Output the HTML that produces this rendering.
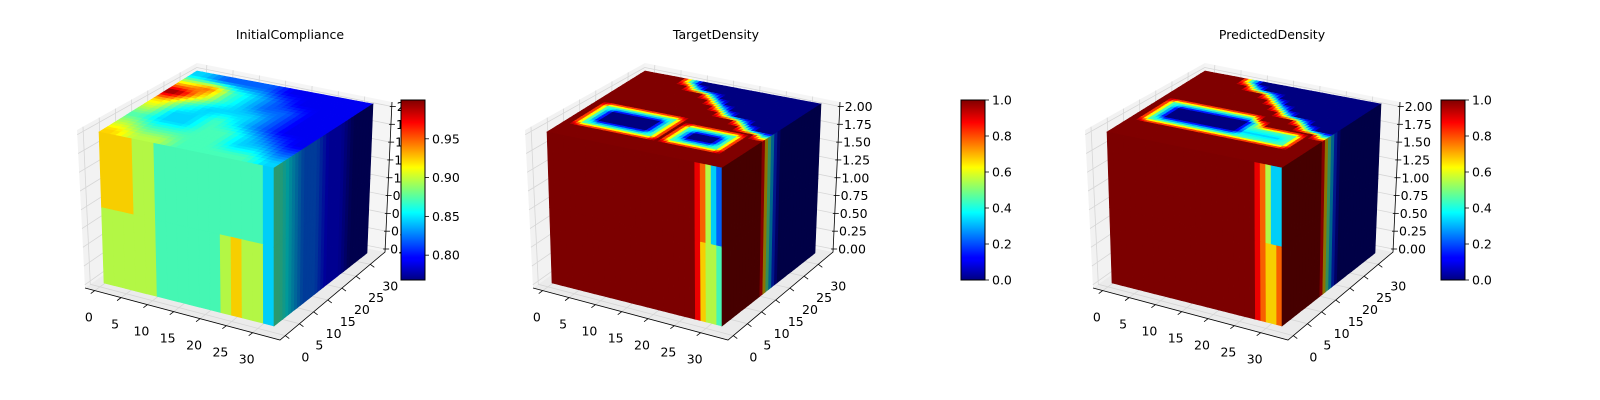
<!DOCTYPE html>
<html><head><meta charset="utf-8">
<style>
html,body{margin:0;padding:0;background:#fff;}
svg{display:block;font-family:"DejaVu Sans","Liberation Sans",sans-serif;}
</style></head>
<body>
<svg id="fig" width="1600" height="400" viewBox="0 0 1600 400" xmlns="http://www.w3.org/2000/svg">
<defs>
<linearGradient id="jetgrad" x1="0" y1="1" x2="0" y2="0">
<stop offset="0" stop-color="#000080"/><stop offset="0.11" stop-color="#0000ff"/>
<stop offset="0.125" stop-color="#0000ff"/><stop offset="0.34" stop-color="#00dbff"/>
<stop offset="0.375" stop-color="#00ffff"/><stop offset="0.5" stop-color="#7dff7a"/>
<stop offset="0.625" stop-color="#ffff00"/><stop offset="0.66" stop-color="#ffdb00"/>
<stop offset="0.875" stop-color="#ff0000"/><stop offset="1" stop-color="#800000"/>
</linearGradient>
</defs>
</svg>
<script>
// ---- data (digits 0-9 => normalized colour value d/9) ----
const panelTitles = ["InitialCompliance", "TargetDensity", "PredictedDensity"];
const xTickLabels = [0, 5, 10, 15, 20, 25, 30];
const yTickLabels = [0, 5, 10, 15, 20, 25, 30];
const zTickLabels = ["0.00","0.25","0.50","0.75","1.00","1.25","1.50","1.75","2.00"];
const cbar1Ticks = [0.80, 0.85, 0.90, 0.95];
const cbar1Range = [0.768, 1.0];
const cbarTicks = [0.0, 0.2, 0.4, 0.6, 0.8, 1.0];

// top faces: rows listed back -> front
const top1 = ["32221111","67432111","96432211","64333211","53343211","43344321","54444332","65544443"];
const top2 = ["9999400000000000","9999940000000000","9999999400000000","9999999940000000",
"9999999994000000","9999999999400000","9999999999994000","9999999999999400",
"9444444499999994","9400000494444499","9400000494000499","9400000494000499",
"9444444494444499","9999999999999999","9999999999999999","9999999999999999"];
const top3 = ["9999400000000000","9999940000000000","9999999400000000","9999999940000000",
"9999999994000000","9999999999400000","9999999999994000","9444444449999400",
"9400000004999994","9400000004444499","9400000003333499","9444444444444499",
"9999999999999999","9999999999999999","9999999999999999","9999999999999999"];
// front faces: [upper half, lower half], columns left -> right
const front1 = ["6665544444444443","5555544444456553"];
const front2 = ["99999999999999999999999999987532","99999999999999999999999999986554"];
const front3 = ["99999999999999999999999999987533","99999999999999999999999999987667"];
// right faces: columns front -> back
const right1 = ["43221100","43221100"];
const right2 = ["9999999520000000","9999999520000000"];
const right3 = ["9999999520000000","9999999520000000"];

const tops = [top1, top2, top3];
const fronts = [front1, front2, front3];
const rights = [right1, right2, right3];
const offsets = [-448, 0, 560];
const titleX = [290, 716, 1272];

// ---- helpers ----
const NS = "http://www.w3.org/2000/svg";
const svg = document.getElementById("fig");
function el(tag, attrs, parent) {
  const e = document.createElementNS(NS, tag);
  for (const k in attrs) e.setAttribute(k, attrs[k]);
  (parent || svg).appendChild(e);
  return e;
}
function clamp(v){return Math.max(0, Math.min(1, v));}
function jet(t, s) {
  s = s === undefined ? 1 : s;
  const r = clamp(1.5 - Math.abs(4*t - 3)), g = clamp(1.5 - Math.abs(4*t - 2)), b = clamp(1.5 - Math.abs(4*t - 1));
  return "rgb(" + Math.round(r*255*s) + "," + Math.round(g*255*s) + "," + Math.round(b*255*s) + ")";
}
function bil(p00, p10, p11, p01, u, v) {
  const x = (1-u)*(1-v)*p00[0] + u*(1-v)*p10[0] + u*v*p11[0] + (1-u)*v*p01[0];
  const y = (1-u)*(1-v)*p00[1] + u*(1-v)*p10[1] + u*v*p11[1] + (1-u)*v*p01[1];
  return [x, y];
}
function P(o, p){return [p[0]+o, p[1]];}
function lerp(a, b, t){return [a[0]+(b[0]-a[0])*t, a[1]+(b[1]-a[1])*t];}
function pts(arr){return arr.map(p => p[0].toFixed(1)+","+p[1].toFixed(1)).join(" ");}
function sampleGrid(rows, u, v) {
  const n = rows.length, m = rows[0].length;
  let fi = v*n - 0.5, fj = u*m - 0.5;
  fi = Math.max(0, Math.min(n-1, fi)); fj = Math.max(0, Math.min(m-1, fj));
  const i0 = Math.floor(fi), j0 = Math.floor(fj);
  const i1 = Math.min(n-1, i0+1), j1 = Math.min(m-1, j0+1);
  const a = fi - i0, b = fj - j0;
  const g = (i, j) => +rows[n-1-i][j];
  return ((1-a)*((1-b)*g(i0,j0) + b*g(i0,j1)) + a*((1-b)*g(i1,j0) + b*g(i1,j1))) / 9;
}
function sampleRow(row, u) {
  const m = row.length;
  let fj = Math.max(0, Math.min(m-1, u*m - 0.5));
  const j0 = Math.floor(fj), j1 = Math.min(m-1, j0+1), b = fj - j0;
  return ((1-b)*(+row[j0]) + b*(+row[j1])) / 9;
}

function xFrac(t){return 0.05 + t*0.027;}
function yFrac(t){return 0.05 + t*0.027;}
function zFrac(i){return 0.02 + i*(0.95/8);}

function drawPanel(k) {
  const o = offsets[k];
  const g = el("g", {});
  
  
  const A = P(o,[533,288]), B = P(o,[728,340]), C = P(o,[833,252]), D = P(o,[638,213]);
  const E = P(o,[525,130]), F = P(o,[645,63]), G = P(o,[840,102]);
  const lw = el("polygon", {points: pts([A,D,F,E]), fill:"#f2f2f2", stroke:"none"}, g);
  
  
  const bw = el("polygon", {points: pts([D,C,G,F]), fill:"#f5f5f5", stroke:"none"}, g);
  
  
  const fl = el("polygon", {points: pts([A,B,C,D]), fill:"#ebebeb", stroke:"none"}, g);
  
  
  const gs = {stroke:"#d6d6d6", "stroke-width":"0.8"};
  xTickLabels.forEach(t => {
    const f = xFrac(t);
    el("polyline", Object.assign({points: pts([lerp(A,B,f), lerp(D,C,f), lerp(F,G,f)]), fill:"none"}, gs), g);
  });
  yTickLabels.forEach(t => {
    const f = yFrac(t);
    el("polyline", Object.assign({points: pts([lerp(B,C,f), lerp(A,D,f), lerp(E,F,f)]), fill:"none"}, gs), g);
  });
  zTickLabels.forEach((t,i) => {
    const f = zFrac(i);
    el("polyline", Object.assign({points: pts([lerp(A,E,f), lerp(D,F,f), lerp(C,G,f)]), fill:"none"}, gs), g);
  });
  el("polyline", {points: pts([A,B,C,G]), fill:"none", stroke:"#000", "stroke-width":"0.8"}, g);
  xTickLabels.forEach(t => {
    const p = lerp(A,B,xFrac(t));
    el("line", {x1:p[0], y1:p[1], x2:p[0]-4, y2:p[1]+3, stroke:"#000", "stroke-width":"0.8"}, g);
    const tx = el("text", {x:(p[0]-6).toFixed(1), y:(p[1]+31).toFixed(1), "font-size":"12.5", "text-anchor":"middle", fill:"#000"}, g);
    tx.textContent = t;
    
    
  });
  yTickLabels.forEach(t => {
    const p = lerp(B,C,yFrac(t));
    el("line", {x1:p[0], y1:p[1], x2:p[0]+4, y2:p[1]+3, stroke:"#000", "stroke-width":"0.8"}, g);
    const tx = el("text", {x:(p[0]+20).toFixed(1), y:(p[1]+26).toFixed(1), "font-size":"12.5", "text-anchor":"middle", fill:"#000"}, g);
    tx.textContent = t;
    
    
  });
  zTickLabels.forEach((t,i) => {
    const p = lerp(C,G,zFrac(i));
    el("line", {x1:p[0]-2, y1:p[1], x2:p[0]+4, y2:p[1], stroke:"#000", "stroke-width":"0.8"}, g);
    const tx = el("text", {x:(p[0]+5).toFixed(1), y:(p[1]+4.5).toFixed(1), "font-size":"12.5", fill:"#000"}, g);
    tx.textContent = t;
    
    
  });
  const FLt = P(o,[547,132]), FRt = P(o,[722,168]), BLt = P(o,[645,71]), BRt = P(o,[821,104]);
  const FLb = P(o,[552,283]), FRb = P(o,[722,326]), BRb = P(o,[815,253]);
  const top = tops[k];
  const R = k === 0 ? 32 : 48;
  const tg = el("g", {}, g);
  
  
  for (let i = 0; i < R; i++) {
    const v0 = i/R, v1 = (i+1)/R;
    for (let j = 0; j < R; j++) {
      const u0 = j/R, u1 = (j+1)/R;
      const col = jet(sampleGrid(top, (u0+u1)/2, (v0+v1)/2));
      const q = [bil(FLt,FRt,BRt,BLt,u0,v0), bil(FLt,FRt,BRt,BLt,u1,v0), bil(FLt,FRt,BRt,BLt,u1,v1), bil(FLt,FRt,BRt,BLt,u0,v1)];
      el("polygon", {points: pts(q), fill: col, stroke: col, "stroke-width":"0.6"}, tg);
    }
  }
  const fr = fronts[k];
  const fg = el("g", {}, g);
  
  
  fr.forEach((row, h) => {
    const w0 = h*0.5, w1 = (h+1)*0.5, m = row.length;
    for (let c = 0; c < m; c++) {
      const u0 = c/m, u1 = (c+1)/m;
      const col = jet(+row[c]/9, 0.97);
      const q = [bil(FLt,FRt,FRb,FLb,u0,w0), bil(FLt,FRt,FRb,FLb,u1,w0), bil(FLt,FRt,FRb,FLb,u1,w1), bil(FLt,FRt,FRb,FLb,u0,w1)];
      el("polygon", {points: pts(q), fill: col, stroke: col, "stroke-width":"0.6"}, fg);
    }
  });
  const rt = rights[k];
  const rg = el("g", {}, g);
  
  
  const RS = 32;
  rt.forEach((row, h) => {
    const w0 = h*0.5, w1 = (h+1)*0.5;
    for (let c = 0; c < RS; c++) {
      const u0 = c/RS, u1 = (c+1)/RS;
      const col = jet(sampleRow(row, (u0+u1)/2), k === 0 ? 0.6 : 0.55);
      const q = [bil(FRt,BRt,BRb,FRb,u0,w0), bil(FRt,BRt,BRb,FRb,u1,w0), bil(FRt,BRt,BRb,FRb,u1,w1), bil(FRt,BRt,BRb,FRb,u0,w1)];
      el("polygon", {points: pts(q), fill: col, stroke: col, "stroke-width":"0.6"}, rg);
    }
  });
  const tt = el("text", {x: titleX[k], y: 39, "font-size":"12.5", "text-anchor":"middle", fill:"#000"}, g);
  tt.textContent = panelTitles[k];
  
  
}

function drawColorbar(x, ticks, range, labelFn) {
  const g = el("g", {});
  
  
  const y0 = 100, y1 = 280, w = 24;
  el("rect", {x:x, y:y0, width:w, height:y1-y0, fill:"url(#jetgrad)", stroke:"#000", "stroke-width":"1"}, g);
  ticks.forEach(t => {
    const y = y1 - (t - range[0])/(range[1]-range[0])*(y1-y0);
    el("line", {x1:x+w, y1:y, x2:x+w+4, y2:y, stroke:"#000", "stroke-width":"0.8"}, g);
    const tx = el("text", {x:x+w+7, y:(y+4.5).toFixed(1), "font-size":"12.5", fill:"#000"}, g);
    tx.textContent = labelFn(t);
    
    
  });
}

[0,1,2].forEach(drawPanel);
drawColorbar(401, cbar1Ticks, cbar1Range, t => t.toFixed(2));
drawColorbar(961, cbarTicks, [0,1], t => t.toFixed(1));
drawColorbar(1441, cbarTicks, [0,1], t => t.toFixed(1));
</script>
</body></html>
